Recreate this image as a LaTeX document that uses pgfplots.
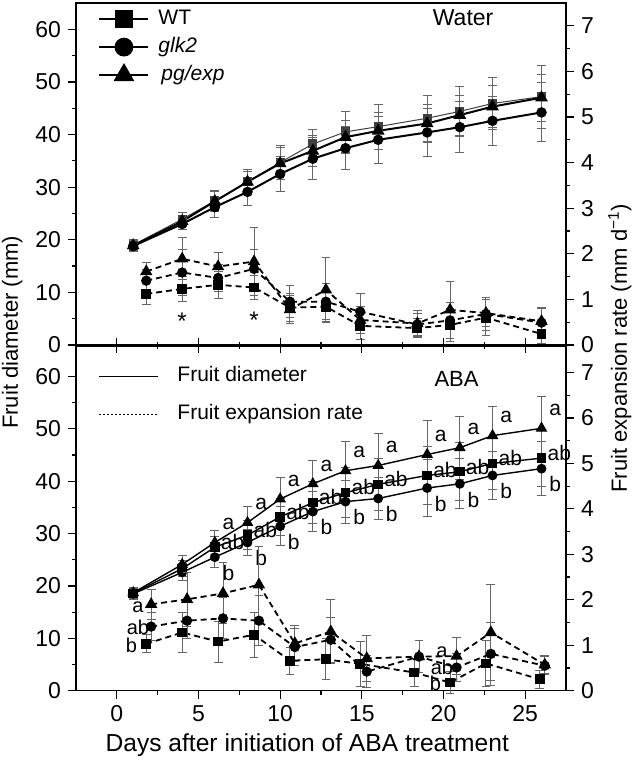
\documentclass[border=0pt]{standalone}
\usepackage{fontspec}
\setmainfont{Liberation Sans}
\usepackage{pgfplots}
\pgfplotsset{compat=1.18}
\usepackage{pgfplotstable}
\definecolor{errc}{gray}{0.4}

\pgfplotstableread{
d  WT   WTe G    Ge  P    Pe
1  19.0 1.0 18.8 1.0 18.9 0.9
4  23.9 1.2 23.0 1.1 23.5 1.0
6  27.4 2.0 26.2 2.0 27.3 1.8
8  31.0 2.3 29.1 2.5 31.0 2.0
10 34.7 3.3 32.5 3.4 34.5 3.0
12 38.2 2.8 35.4 4.0 36.9 3.0
14 40.5 3.9 37.4 4.1 39.5 3.2
16 41.5 4.3 39.0 4.5 40.7 3.5
19 43.1 4.4 40.4 4.6 42.1 3.6
21 44.4 4.8 41.4 4.8 43.7 3.8
23 45.9 5.0 42.6 4.6 45.3 4.0
26 47.2 6.0 44.2 5.6 47.0 4.5
}\topdia

\pgfplotstableread{
d    WT   WTe  G    Ge   P    Pe
1.8  1.12 0.24 1.41 0.25 1.61 0.20
4.0  1.23 0.28 1.59 0.50 1.89 0.46
6.2  1.32 0.29 1.47 0.30 1.72 0.30
8.4  1.26 0.26 1.67 0.42 1.83 0.75
10.6 0.82 0.30 0.95 0.35 0.78 0.30
12.8 0.84 0.35 0.95 0.40 1.21 0.70
14.9 0.42 0.30 0.73 0.39 0.55 0.30
18.4 0.37 0.20 0.45 0.25 0.47 0.28
20.4 0.44 0.37 0.54 0.40 0.77 0.62
22.6 0.60 0.40 0.68 0.37 0.70 0.30
26.0 0.24 0.20 0.49 0.32 0.52 0.30
}\toprate

\pgfplotstableread{
d  WT   WTe G    Ge  P    Pe
1  18.6 1.0 18.5 1.0 18.7 1.0
4  23.3 1.5 22.6 1.6 24.1 1.7
6  27.4 2.0 25.5 1.9 28.3 2.2
8  29.7 2.8 28.3 2.5 32.1 3.1
10 33.2 3.5 31.4 3.7 36.6 4.1
12 35.9 4.0 34.2 3.8 39.5 4.4
14 37.8 4.8 36.1 4.1 42.0 5.5
16 39.4 5.0 36.7 4.1 43.0 6.2
19 41.1 5.5 38.7 5.4 45.1 6.4
21 41.8 5.5 39.5 4.8 46.4 6.0
23 43.4 5.0 41.1 4.5 48.7 5.6
26 44.4 5.5 42.4 5.1 50.1 6.0
}\botdia

\pgfplotstableread{
xs   WT   WTe  xc   G    Ge   P    Pe
1.8  1.03 0.20 2.1  1.41 0.30 1.90 0.33
4.0  1.28 0.45 4.3  1.54 0.40 2.01 0.60
6.2  1.08 0.45 6.5  1.59 0.45 2.14 0.67
8.4  1.23 0.50 8.7  1.54 0.55 2.33 0.84
10.6 0.66 0.30 10.9 0.96 0.40 1.04 0.40
12.8 0.69 0.45 13.1 1.12 0.50 1.30 0.70
14.9 0.59 0.50 15.3 0.42 0.35 0.71 0.50
18.2 0.40 0.30 18.5 0.75 0.35 0.75 0.35
20.4 0.18 0.25 20.8 0.51 0.30 0.76 0.40
22.6 0.60 0.50 22.9 0.81 0.70 1.28 1.05
25.9 0.25 0.20 26.2 0.55 0.20 0.57 0.20
}\botrate

\pgfplotsset{
  panel/.style={scale only axis, width=245pt, xmin=-2.5, xmax=27.5,
    xtick={0,5,...,25}, minor x tick num=1, tick align=outside,
    major tick length=4pt, minor tick length=2pt,
    tick style={black, line width=0.6pt}, axis line style={line width=0.7pt},
    tick label style={font=\fontsize{11.5}{13}\selectfont},
    /pgf/number format/assume math mode=true, clip=false},
  ebar/.style={error bars/.cd, y dir=both, y explicit,
    error bar style={errc, line width=0.5pt, solid},
    error mark options={rotate=90, mark size=2.2pt, errc, line width=0.5pt, solid}},
  sq/.style={mark=square*, mark size=2pt, mark options={solid}},
  ci/.style={mark=*, mark size=2.1pt, mark options={solid}},
  tr/.style={mark=triangle*, mark size=2.7pt, mark options={solid}},
  dsh/.style={black, line width=0.9pt, dash pattern=on 3pt off 2pt},
}

\begin{document}
\begin{tikzpicture}
\path[use as bounding box] (0,0) rectangle (316.5pt,381.5pt);

% ---------- top panel, diameter ----------
\begin{axis}[panel, at={(38pt,209pt)}, anchor=south west, height=171pt,
  ymin=0, ymax=65, ytick={0,10,...,60}, minor y tick num=1,
  xticklabels={}, xtick pos=left, ytick pos=left,
  legend image code/.code={\draw[mark repeat=2,mark phase=2,#1] plot coordinates {(0pt,0pt) (12.25pt,0pt) (24.5pt,0pt)};},
  legend style={at={(rel axis cs:0.045,0.871)}, anchor=west, draw=none, fill=none, inner sep=0pt,
    row sep=3pt, font=\fontsize{10.5}{12}\selectfont,
    nodes={inner sep=0.5pt, text height=7.5pt, text depth=2.5pt},
    /tikz/every odd column/.append style={column sep=4pt}},
  legend cell align=left]
\addlegendimage{black, line width=1pt, mark=square*, mark size=4pt}
\addlegendentry{WT}
\addlegendimage{black, line width=1pt, mark=*, mark size=4.2pt}
\addlegendentry{\itshape glk2}
\addlegendimage{black, line width=1pt, mark=triangle*, mark size=5pt}
\addlegendentry{\hspace{1.5pt}\itshape pg/exp}
\addplot[forget plot, black!75, line width=0.5pt, sq, ebar] table[x=d, y=WT, y error=WTe] {\topdia};
\addplot[forget plot, black, line width=1pt, ci, ebar] table[x=d, y=G, y error=Ge] {\topdia};
\addplot[forget plot, black, line width=1pt, tr, ebar] table[x=d, y=P, y error=Pe] {\topdia};
\node[font=\fontsize{11.5}{13}\selectfont] at (axis cs:21.2,62.2) {Water};
\node[font=\fontsize{12}{14}\selectfont] at (axis cs:4.0,4.5) {*};
\node[font=\fontsize{12}{14}\selectfont] at (axis cs:8.4,4.7) {*};
\end{axis}

% ---------- top panel, expansion rate ----------
\begin{axis}[panel, at={(38pt,209pt)}, anchor=south west, height=171pt,
  ymin=0, ymax=7.5, ytick={0,1,...,7}, minor y tick num=1,
  axis y line*=right, axis x line=none]
\addplot[dsh, sq, ebar] table[x=d, y=WT, y error=WTe] {\toprate};
\addplot[dsh, ci, ebar] table[x=d, y=G, y error=Ge] {\toprate};
\addplot[dsh, tr, ebar] table[x=d, y=P, y error=Pe] {\toprate};
\end{axis}

% ---------- bottom panel, diameter ----------
\begin{axis}[panel, at={(38pt,36.15pt)}, anchor=south west, height=172.3pt,
  ymin=0, ymax=65.8, ytick={0,10,...,60}, minor y tick num=1,
  xtick pos=both, ytick pos=left,
  xlabel={Days after initiation of ABA treatment},
  xlabel style={at={(axis description cs:0.472,-0.157)}, anchor=center, font=\fontsize{12.3}{14}\selectfont},
  ylabel={Fruit diameter (mm)},
  ylabel style={at={(axis description cs:-0.13,1.04)}, anchor=center, font=\fontsize{11}{13}\selectfont},
  legend image code/.code={\draw[#1] (0pt,0pt) -- (29.5pt,0pt);},
  legend style={at={(rel axis cs:0.045,0.858)}, anchor=west, draw=none, fill=none, inner sep=0pt,
    row sep=8pt, font=\fontsize{10.5}{12}\selectfont,
    nodes={inner sep=0.5pt, text height=7.5pt, text depth=2.5pt},
    /tikz/every odd column/.append style={column sep=9pt}},
  legend cell align=left]
\addlegendimage{black, line width=0.5pt}
\addlegendentry{Fruit diameter}
\addlegendimage{black, line width=0.5pt, dash pattern=on 1pt off 1pt}
\addlegendentry{Fruit expansion rate}
\addplot[forget plot, black, line width=0.7pt, sq, ebar] table[x=d, y=WT, y error=WTe] {\botdia};
\addplot[forget plot, black, line width=0.7pt, ci, ebar] table[x=d, y=G, y error=Ge] {\botdia};
\addplot[forget plot, black, line width=0.7pt, tr, ebar] table[x=d, y=P, y error=Pe] {\botdia};
\node[font=\fontsize{11}{13}\selectfont] at (axis cs:20.8,59.6) {ABA};
\begin{scope}[every node/.style={anchor=west, inner sep=0pt, font=\fontsize{10.5}{12}\selectfont}]
\node at (axis cs:6.45,31.8) {a};   \node at (axis cs:6.35,28.4) {ab};  \node at (axis cs:6.45,22.5) {b};
\node at (axis cs:8.45,35.6) {a};   \node at (axis cs:8.35,30.7) {ab};  \node at (axis cs:8.45,25.3) {b};
\node at (axis cs:10.45,40.1) {a};  \node at (axis cs:10.35,34.2) {ab}; \node at (axis cs:10.45,28.4) {b};
\node at (axis cs:12.45,43.0) {a};  \node at (axis cs:12.35,36.9) {ab}; \node at (axis cs:12.45,31.2) {b};
\node at (axis cs:14.45,45.5) {a};  \node at (axis cs:14.35,38.8) {ab}; \node at (axis cs:14.45,33.1) {b};
\node at (axis cs:16.45,46.5) {a};  \node at (axis cs:16.35,40.4) {ab}; \node at (axis cs:16.45,33.7) {b};
\node at (axis cs:19.45,48.6) {a};  \node at (axis cs:19.35,42.1) {ab}; \node at (axis cs:19.45,35.7) {b};
\node at (axis cs:21.45,49.9) {a};  \node at (axis cs:21.35,42.8) {ab}; \node at (axis cs:21.45,36.5) {b};
\node at (axis cs:23.45,52.2) {a};  \node at (axis cs:23.35,44.4) {ab}; \node at (axis cs:23.45,38.1) {b};
\node at (axis cs:26.45,53.6) {a};  \node at (axis cs:26.35,45.4) {ab}; \node at (axis cs:26.45,39.4) {b};
\end{scope}
\end{axis}

% ---------- bottom panel, expansion rate ----------
\begin{axis}[panel, at={(38pt,36.15pt)}, anchor=south west, height=172.3pt,
  ymin=0, ymax=7.58, ytick={0,1,...,7}, minor y tick num=1,
  axis y line*=right, axis x line=none,
  ylabel={Fruit expansion rate (mm d\textsuperscript{−1})},
  ylabel style={at={(axis description cs:1.11,0.994)}, anchor=center, font=\fontsize{11}{13}\selectfont}]
\addplot[dsh, sq, ebar] table[x=xs, y=WT, y error=WTe] {\botrate};
\addplot[dsh, ci, ebar] table[x=xc, y=G, y error=Ge] {\botrate};
\addplot[dsh, tr, ebar] table[x=xc, y=P, y error=Pe] {\botrate};
\begin{scope}[every node/.style={inner sep=0pt, font=\fontsize{10}{12}\selectfont}]
\node at (axis cs:1.29,1.84) {a};
\node at (axis cs:1.29,1.40) {ab};
\node at (axis cs:0.9,1.0) {b};
\node at (axis cs:19.9,0.84) {a};
\node at (axis cs:19.9,0.51) {ab};
\node at (axis cs:19.5,0.17) {b};
\end{scope}
\end{axis}
\end{tikzpicture}
\end{document}
